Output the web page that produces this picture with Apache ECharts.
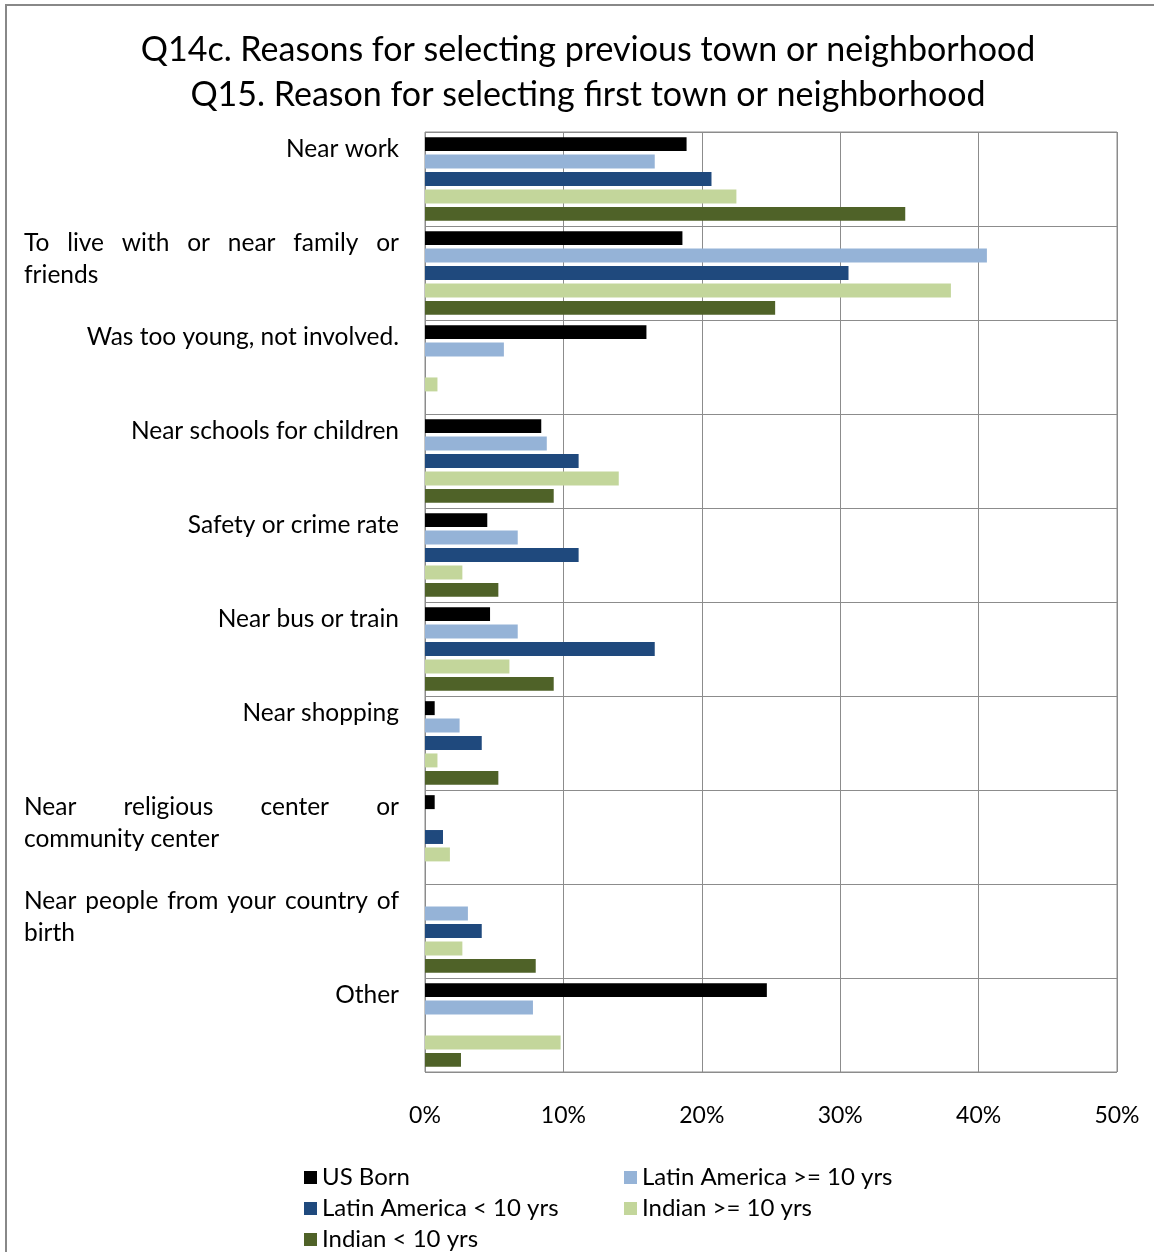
<!DOCTYPE html>
<html><head><meta charset="utf-8">
<script src="https://cdn.jsdelivr.net/npm/echarts@6/dist/echarts.min.js"></script>
<style>html,body{margin:0;padding:0;background:#fff}#c{width:1154px;height:1252px}</style>
</head><body><div id="c"></div>
<script>
var titleLines = ["Q14c. Reasons for selecting previous town or neighborhood", "Q15. Reason for selecting first town or neighborhood"];
var categories = ["Near work", "To live with or near family or friends", "Was too young, not involved.", "Near schools for children", "Safety or crime rate", "Near bus or train", "Near shopping", "Near religious center or community center", "Near people from your country of birth", "Other"];
// how category labels wrap (first line justified when wrapped)
var categoryLines = [["Near work"], ["To live with or near family or", "friends"], ["Was too young, not involved."], ["Near schools for children"], ["Safety or crime rate"], ["Near bus or train"], ["Near shopping"], ["Near religious center or", "community center"], ["Near people from your country of", "birth"], ["Other"]];
var seriesNames = ["US Born", "Latin America >= 10 yrs", "Latin America < 10 yrs", "Indian >= 10 yrs", "Indian < 10 yrs"];
var usBorn = [18.9, 18.6, 16.0, 8.4, 4.5, 4.7, 0.7, 0.7, 0, 24.7];
var latinAm10plus = [16.6, 40.6, 5.7, 8.8, 6.7, 6.7, 2.5, 0, 3.1, 7.8];
var latinAmUnder10 = [20.7, 30.6, 0, 11.1, 11.1, 16.6, 4.1, 1.3, 4.1, 0];
var indian10plus = [22.5, 38.0, 0.9, 14.0, 2.7, 6.1, 0.9, 1.8, 2.7, 9.8];
var indianUnder10 = [34.7, 25.3, 0, 9.3, 5.3, 9.3, 5.3, 0, 8.0, 2.6];
var xTicks = [0, 10, 20, 30, 40, 50];
var colors = ["#000000", "#95B3D7", "#1F497D", "#C3D69B", "#4F6228"];

var FONT = "Lato";
var chart = echarts.init(document.getElementById('c'), null, {renderer: 'canvas'});
var allData = [usBorn, latinAm10plus, latinAmUnder10, indian10plus, indianUnder10];
var series = seriesNames.map(function (n, i) {
  return {name: n, type: 'bar', data: allData[i], itemStyle: {color: colors[i]},
    barGap: '25%', barCategoryGap: '11%'};
});
var legendCommon = {orient: 'vertical', padding: 0, height: 200, itemWidth: 13, itemHeight: 13, itemGap: 0, itemTextGap: 7, icon: 'rect',
  textStyle: {fontFamily: FONT, fontSize: 24, color: '#000', lineHeight: 31}};
var option = {
  animation: false,
  backgroundColor: '#fff',
  title: {text: titleLines.join('\n'), left: 583, textAlign: 'center', top: 23,
    textStyle: {fontFamily: FONT, fontSize: 34, fontWeight: 'normal', color: '#000', lineHeight: 45}},
  grid: {left: 425, right: 37, top: 132, bottom: 180, show: true, borderColor: '#8c8c8c', borderWidth: 1},
  xAxis: {type: 'value', min: xTicks[0], max: xTicks[xTicks.length - 1], interval: 10,
    axisLine: {show: false}, axisTick: {show: false},
    splitLine: {lineStyle: {color: '#8c8c8c', width: 1}},
    axisLabel: {formatter: '{value}%', fontFamily: FONT, fontSize: 23, color: '#000', margin: 32}},
  yAxis: {type: 'category', data: categories, inverse: true,
    axisLine: {show: false}, axisTick: {show: false}, axisLabel: {show: false},
    splitLine: {show: true, lineStyle: {color: '#8c8c8c', width: 1}}},
  legend: [
    Object.assign({data: [seriesNames[0], seriesNames[2], seriesNames[4]], left: 304, top: 1162}, legendCommon),
    Object.assign({data: [seriesNames[1], seriesNames[3]], left: 624, top: 1162}, legendCommon)
  ],
  series: series
};
chart.setOption(option);

// category labels at top of each band, placed via the axis scale
var ctx = document.createElement('canvas').getContext('2d');
var LF = '24.5px ' + FONT;
ctx.font = LF;
var p0 = chart.convertToPixel({yAxisIndex: 0}, categories[0]);
var p1 = chart.convertToPixel({yAxisIndex: 0}, categories[1]);
var band = p1 - p0;
var graphics = [{type: 'rect', shape: {x: 6, y: 5, width: 1300, height: 1400}, style: {fill: null, stroke: '#888', lineWidth: 2}, silent: true}];
var LEFT = 24, RIGHT = 399, LH = 32;
categoryLines.forEach(function (lines, ci) {
  var top = chart.convertToPixel({yAxisIndex: 0}, categories[ci]) - band / 2 + 5;
  if (lines.length === 1) {
    graphics.push({type: 'text', x: RIGHT, y: top, style: {text: lines[0], font: LF, fill: '#000', textAlign: 'right', textVerticalAlign: 'top'}});
  } else {
    var words = lines[0].split(' ');
    var wsum = 0;
    words.forEach(function (w) { wsum += ctx.measureText(w).width; });
    var gap = (RIGHT - LEFT - wsum) / (words.length - 1);
    var x = LEFT;
    words.forEach(function (w) {
      graphics.push({type: 'text', x: x, y: top, style: {text: w, font: LF, fill: '#000', textAlign: 'left', textVerticalAlign: 'top'}});
      x += ctx.measureText(w).width + gap;
    });
    for (var k = 1; k < lines.length; k++) {
      graphics.push({type: 'text', x: LEFT, y: top + LH * k, style: {text: lines[k], font: LF, fill: '#000', textAlign: 'left', textVerticalAlign: 'top'}});
    }
  }
});
chart.setOption({graphic: graphics});
</script>
</body></html>
